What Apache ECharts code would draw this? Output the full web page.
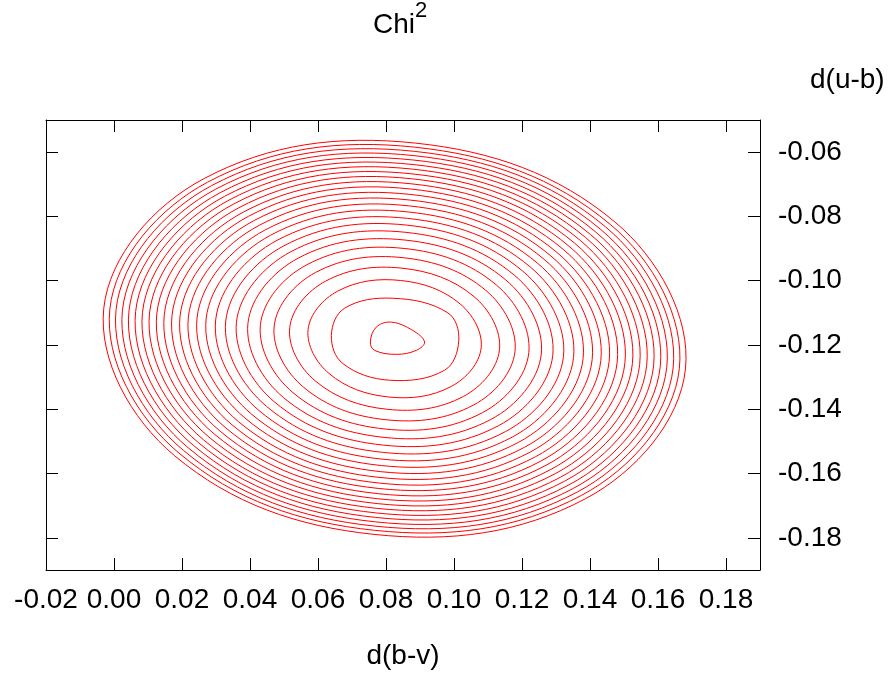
<!DOCTYPE html>
<html>
<head>
<meta charset="utf-8">
<script src="https://cdn.jsdelivr.net/npm/echarts@6.0.0/dist/echarts.min.js"></script>
<style>
  html, body { margin: 0; padding: 0; background: #ffffff; }
  #chart { width: 892px; height: 675px; }
</style>
</head>
<body>
<div id="chart"></div>
<script>
// Tick labels
const xTicks = [-0.02, 0.00, 0.02, 0.04, 0.06, 0.08, 0.10, 0.12, 0.14, 0.16, 0.18];
const yTicks = [-0.18, -0.16, -0.14, -0.12, -0.10, -0.08, -0.06];

// Chi^2 contours, innermost first. Eight points read around each closed contour:
// right, lower-right, bottom, lower-left, left, upper-left, top, upper-right.
const rightX    = [0.09134, 0.10141, 0.10799, 0.11338, 0.11795, 0.12200, 0.12567, 0.12905, 0.13220, 0.13516, 0.13797, 0.14064, 0.14319, 0.14564, 0.14800, 0.15027, 0.15247, 0.15461, 0.15668, 0.15870, 0.16066, 0.16258, 0.16445, 0.16628, 0.16807];
const rightY    = [-0.11907, -0.11858, -0.12087, -0.12147, -0.12197, -0.12242, -0.12283, -0.12320, -0.12355, -0.12388, -0.12419, -0.12449, -0.12477, -0.12504, -0.12530, -0.12556, -0.12580, -0.12604, -0.12627, -0.12649, -0.12671, -0.12692, -0.12713, -0.12733, -0.12753];
const lowRightX = [0.08890, 0.09721, 0.09926, 0.10279, 0.10580, 0.10846, 0.11087, 0.11309, 0.11516, 0.11711, 0.11895, 0.12071, 0.12238, 0.12399, 0.12554, 0.12703, 0.12848, 0.12988, 0.13125, 0.13257, 0.13386, 0.13512, 0.13635, 0.13755, 0.13873];
const lowRightY = [-0.12167, -0.12786, -0.13286, -0.13599, -0.13865, -0.14100, -0.14314, -0.14510, -0.14693, -0.14866, -0.15029, -0.15184, -0.15333, -0.15475, -0.15612, -0.15744, -0.15872, -0.15997, -0.16117, -0.16234, -0.16349, -0.16460, -0.16569, -0.16675, -0.16779];
const bottomX   = [0.08302, 0.08106, 0.08072, 0.08034, 0.08002, 0.07973, 0.07947, 0.07923, 0.07901, 0.07880, 0.07860, 0.07841, 0.07823, 0.07805, 0.07788, 0.07772, 0.07757, 0.07742, 0.07727, 0.07713, 0.07699, 0.07685, 0.07672, 0.07659, 0.07646];
const bottomY   = [-0.12291, -0.13096, -0.13617, -0.14000, -0.14326, -0.14614, -0.14875, -0.15115, -0.15340, -0.15551, -0.15750, -0.15940, -0.16122, -0.16296, -0.16464, -0.16626, -0.16783, -0.16934, -0.17082, -0.17225, -0.17365, -0.17502, -0.17635, -0.17765, -0.17892];
const lowLeftX  = [0.07665, 0.06734, 0.06325, 0.05917, 0.05571, 0.05264, 0.04986, 0.04730, 0.04492, 0.04267, 0.04055, 0.03853, 0.03659, 0.03474, 0.03295, 0.03123, 0.02956, 0.02795, 0.02638, 0.02485, 0.02336, 0.02191, 0.02049, 0.01911, 0.01775];
const lowLeftY  = [-0.12167, -0.12579, -0.12887, -0.13115, -0.13310, -0.13482, -0.13637, -0.13781, -0.13915, -0.14041, -0.14160, -0.14273, -0.14382, -0.14486, -0.14586, -0.14683, -0.14776, -0.14867, -0.14955, -0.15041, -0.15124, -0.15206, -0.15285, -0.15363, -0.15439];
const leftX     = [0.07539, 0.06393, 0.05707, 0.05168, 0.04711, 0.04306, 0.03939, 0.03601, 0.03286, 0.02990, 0.02709, 0.02442, 0.02187, 0.01942, 0.01706, 0.01479, 0.01259, 0.01045, 0.00838, 0.00636, 0.00440, 0.00248, 0.00061, -0.00122, -0.00301];
const leftY     = [-0.11907, -0.11703, -0.11523, -0.11463, -0.11413, -0.11368, -0.11327, -0.11290, -0.11255, -0.11222, -0.11191, -0.11161, -0.11133, -0.11106, -0.11080, -0.11055, -0.11030, -0.11006, -0.10984, -0.10961, -0.10939, -0.10918, -0.10897, -0.10877, -0.10857];
const upLeftX   = [0.07715, 0.06784, 0.06580, 0.06227, 0.05926, 0.05660, 0.05419, 0.05197, 0.04990, 0.04795, 0.04611, 0.04436, 0.04268, 0.04107, 0.03952, 0.03803, 0.03658, 0.03518, 0.03381, 0.03249, 0.03120, 0.02994, 0.02871, 0.02751, 0.02633];
const upLeftY   = [-0.11443, -0.10854, -0.10324, -0.10011, -0.09745, -0.09510, -0.09297, -0.09100, -0.08917, -0.08744, -0.08581, -0.08426, -0.08278, -0.08135, -0.07998, -0.07866, -0.07738, -0.07614, -0.07493, -0.07376, -0.07262, -0.07150, -0.07041, -0.06935, -0.06831];
const topX      = [0.08156, 0.08203, 0.08434, 0.08472, 0.08504, 0.08533, 0.08559, 0.08583, 0.08606, 0.08627, 0.08646, 0.08665, 0.08684, 0.08701, 0.08718, 0.08734, 0.08749, 0.08765, 0.08779, 0.08794, 0.08807, 0.08821, 0.08834, 0.08847, 0.08860];
const topY      = [-0.11288, -0.10545, -0.09993, -0.09610, -0.09284, -0.08996, -0.08735, -0.08495, -0.08270, -0.08060, -0.07860, -0.07670, -0.07488, -0.07314, -0.07146, -0.06984, -0.06828, -0.06676, -0.06528, -0.06385, -0.06245, -0.06108, -0.05975, -0.05845, -0.05718];
const upRightX  = [0.08790, 0.09818, 0.10181, 0.10589, 0.10935, 0.11242, 0.11520, 0.11776, 0.12014, 0.12239, 0.12451, 0.12653, 0.12847, 0.13032, 0.13211, 0.13383, 0.13550, 0.13711, 0.13868, 0.14021, 0.14170, 0.14315, 0.14457, 0.14595, 0.14731];
const upRightY  = [-0.11548, -0.11000, -0.10723, -0.10495, -0.10300, -0.10129, -0.09973, -0.09829, -0.09695, -0.09569, -0.09450, -0.09337, -0.09228, -0.09124, -0.09024, -0.08927, -0.08834, -0.08743, -0.08655, -0.08569, -0.08486, -0.08405, -0.08325, -0.08247, -0.08171];

const ringX = [rightX, lowRightX, bottomX, lowLeftX, leftX, upLeftX, topX, upRightX];
const ringY = [rightY, lowRightY, bottomY, lowLeftY, leftY, upLeftY, topY, upRightY];

// one data item per contour: [x0, y0, x1, y1, ... x7, y7]
const contourData = rightX.map((_, i) => {
  const row = [];
  for (let j = 0; j < ringX.length; j++) { row.push(ringX[j][i], ringY[j][i]); }
  return row;
});

const FONT = "'Liberation Sans', Arial, Helvetica, sans-serif";
const fmt = v => Number(v).toFixed(2);

const chart = echarts.init(document.getElementById('chart'), null, { renderer: 'canvas' });

const baseX = {
  type: 'value', min: -0.02, max: 0.19,
  splitLine: { show: false },
  axisLine: { show: true, onZero: false, lineStyle: { color: '#000', width: 1 } }
};
const baseY = {
  type: 'value', min: -0.19, max: -0.05,
  splitLine: { show: false },
  axisLine: { show: true, onZero: false, lineStyle: { color: '#000', width: 1 } }
};

chart.setOption({
  animation: false,
  backgroundColor: '#ffffff',
  textStyle: { fontFamily: FONT },
  title: {
    text: '{m|Chi}{s|2}',
    left: 373, top: 0, padding: 0,
    textStyle: {
      fontWeight: 'normal',
      rich: {
        m: { fontSize: 28, color: '#000', lineHeight: 50, fontWeight: 'normal', fontFamily: FONT },
        s: { fontSize: 22, color: '#000', lineHeight: 24, verticalAlign: 'top', fontWeight: 'normal', fontFamily: FONT }
      }
    }
  },
  grid: { left: 46, right: 132, top: 120, bottom: 103, containLabel: false },
  xAxis: [
    Object.assign({}, baseX, {
      position: 'bottom',
      axisTick: { show: true, inside: true, length: 12, customValues: xTicks, lineStyle: { color: '#000' } },
      axisLabel: { show: true, customValues: xTicks, formatter: fmt, fontSize: 28, color: '#000', margin: 16, fontFamily: FONT },
      name: 'd(b-v)', nameLocation: 'middle', nameGap: 72,
      nameTextStyle: { fontSize: 28, color: '#000', fontFamily: FONT }
    }),
    Object.assign({}, baseX, {
      position: 'top',
      axisTick: { show: true, inside: true, length: 12, customValues: xTicks, lineStyle: { color: '#000' } },
      axisLabel: { show: false }
    })
  ],
  yAxis: [
    Object.assign({}, baseY, {
      position: 'right',
      axisTick: { show: true, inside: true, length: 12, customValues: yTicks, lineStyle: { color: '#000' } },
      axisLabel: { show: true, customValues: yTicks, formatter: fmt, fontSize: 28, color: '#000', margin: 18, fontFamily: FONT },
      name: 'd(u-b)', nameLocation: 'end', nameGap: 26,
      nameTextStyle: { fontSize: 28, color: '#000', align: 'left', padding: [0, 0, 0, 50], fontFamily: FONT }
    }),
    Object.assign({}, baseY, {
      position: 'left',
      axisTick: { show: true, inside: true, length: 12, customValues: yTicks, lineStyle: { color: '#000' } },
      axisLabel: { show: false }
    })
  ],
  series: [{
    type: 'custom',
    name: 'Chi2',
    xAxisIndex: 0, yAxisIndex: 0,
    coordinateSystem: 'cartesian2d',
    encode: { x: [0, 2, 4, 6, 8, 10, 12, 14], y: [1, 3, 5, 7, 9, 11, 13, 15] },
    data: contourData,
    renderItem: function (params, api) {
      const pts = [];
      for (let j = 0; j < 8; j++) {
        pts.push(api.coord([api.value(2 * j), api.value(2 * j + 1)]));
      }
      return {
        type: 'polygon',
        shape: { points: pts, smooth: 0.375 },
        style: { fill: 'none', stroke: '#ff0000', lineWidth: 1 }
      };
    }
  }]
});
</script>
</body>
</html>
